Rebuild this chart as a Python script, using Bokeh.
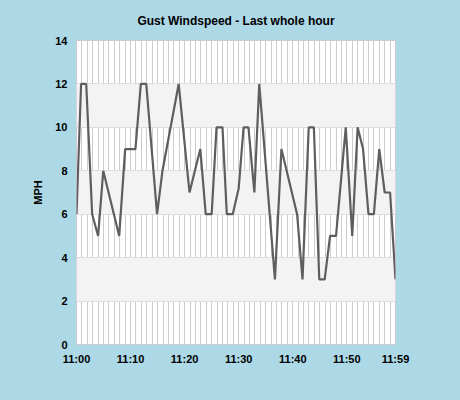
import pandas as pd
from bokeh.plotting import figure
from bokeh.models import (ColumnDataSource, FixedTicker, DatetimeTickFormatter,
                          Range1d, GlobalInlineStyleSheet)
from bokeh.embed import file_html
from bokeh.resources import INLINE

# ---- data ----
day = "2024-01-01"
times = ["11:00:00", "11:00:51", "11:01:48", "11:02:54", "11:04:00", "11:04:57",
         "11:07:54", "11:09:00", "11:10:54", "11:11:54", "11:12:54", "11:14:54",
         "11:15:54", "11:18:54", "11:20:54", "11:22:54", "11:23:54", "11:25:00",
         "11:25:54", "11:27:00", "11:27:48", "11:28:54", "11:30:00", "11:30:54",
         "11:31:48", "11:32:54", "11:33:48", "11:36:42", "11:37:54", "11:40:48",
         "11:41:48", "11:42:57", "11:43:54", "11:44:54", "11:45:54", "11:46:54",
         "11:48:00", "11:49:48", "11:51:00", "11:52:00", "11:53:00", "11:54:00",
         "11:55:00", "11:56:00", "11:57:00", "11:58:00", "11:59:00"]
gust_mph = [6, 12, 12, 6, 5, 8,
            5, 9, 9, 12, 12, 6,
            8, 12, 7, 9, 6, 6,
            10, 10, 6, 6, 7.2, 10,
            10, 7, 12, 3, 9, 6,
            3, 10, 10, 3, 3, 5,
            5, 10, 5, 10, 9, 6,
            6, 9, 7, 7, 3]
x_tick_labels = ["11:00", "11:10", "11:20", "11:30", "11:40", "11:50", "11:59"]
y_ticks = [0, 2, 4, 6, 8, 10, 12, 14]
title_text = "Gust Windspeed - Last whole hour"
y_label = "MPH"

# ---- build ----
x = pd.to_datetime([f"{day} {t}" for t in times])
src = ColumnDataSource(dict(x=x, y=gust_mph))

def ms(t):
    return pd.Timestamp(f"{day} {t}").value // 10**6

start_ms = ms("11:00:00")
end_ms = ms("11:59:00")
minute_ticks = list(range(start_ms, end_ms + 1, 60000))

p = figure(width=444, height=384, x_axis_type="datetime",
           output_backend="svg", toolbar_location=None,
           x_range=Range1d(start_ms, end_ms), y_range=Range1d(0, 14),
           min_border_left=76, min_border_right=49,
           min_border_top=40, min_border_bottom=40,
           title=title_text)

bg = "#add8e6"
p.border_fill_color = bg
p.background_fill_color = "white"
p.outline_line_color = "#cccccc"
p.stylesheets = [GlobalInlineStyleSheet(css=f"body {{ background: {bg}; }}")]

p.title.text_font = "Liberation Sans"
p.title.text_font_size = "12px"
p.title.text_font_style = "bold"
p.title.align = "center"
p.title.text_color = "#000000"
p.title.standoff = 21
p.title.vertical_align = "top"

p.line("x", "y", source=src, line_color="#5e5e5e", line_width=2.2)

# x axis
p.xaxis.ticker = FixedTicker(ticks=[ms(t + ":00") for t in x_tick_labels])
fmt = "%H:%M"
p.xaxis.formatter = DatetimeTickFormatter(seconds=fmt, minsec=fmt, minutes=fmt,
                                          hourmin=fmt, hours=fmt)
p.xgrid.ticker = FixedTicker(ticks=minute_ticks)
p.xgrid.grid_line_color = "#cccccc"
p.xgrid.grid_line_width = 1

# y axis
p.yaxis.ticker = FixedTicker(ticks=y_ticks)
p.ygrid.ticker = FixedTicker(ticks=y_ticks)
p.ygrid.grid_line_color = "#dddddd"
p.ygrid.band_fill_color = "#f3f3f3"
p.ygrid.band_fill_alpha = 1
p.yaxis.axis_label = y_label

for ax in (p.xaxis, p.yaxis):
    ax.axis_line_color = None
    ax.major_tick_line_color = None
    ax.minor_tick_line_color = None
    ax.major_tick_out = 0
    ax.major_tick_in = 0
    ax.minor_tick_out = 0
    ax.major_label_text_font = "Liberation Sans"
    ax.major_label_text_font_size = "11px"
    ax.major_label_text_font_style = "bold"
    ax.major_label_text_color = "#000000"
    ax.axis_label_text_font = "Liberation Sans"
    ax.axis_label_text_font_size = "11px"
    ax.axis_label_text_font_style = "bold"
    ax.axis_label_text_color = "#000000"

p.yaxis.major_label_standoff = 9
p.xaxis.major_label_standoff = 8
p.yaxis.axis_label_standoff = 8

open("out.html", "w").write(file_html(p, INLINE))
